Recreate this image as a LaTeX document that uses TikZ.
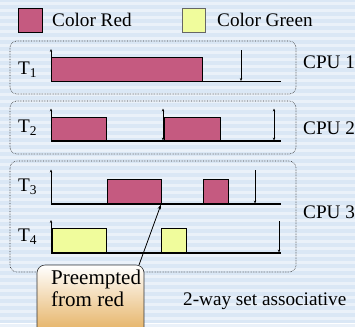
\documentclass[tikz,border=0pt]{standalone}
\usepackage{fontspec}
\setmainfont{Liberation Serif}
\usetikzlibrary{arrows.meta}
\definecolor{bgblue}{HTML}{DAE7F5}
\definecolor{bgstripe}{HTML}{EAF1F9}
\definecolor{taskred}{HTML}{C55A80}
\definecolor{taskyellow}{HTML}{F0FC9C}
\definecolor{calloutorange}{HTML}{E6B468}
\tikzset{
  cpubox/.style={draw=black!80, densely dotted, rounded corners=7pt, line width=0.6pt},
  redbar/.style={draw=black, fill=taskred, line width=0.8pt},
  yellowbar/.style={draw=black, fill=taskyellow, line width=0.6pt},
  baseline/.style={line width=1.4pt},
  tick/.style={line width=0.6pt, -{Stealth[length=3pt,width=2.4pt]}},
  dtick/.style={line width=0.6pt, {Stealth[length=3pt,width=2.4pt]}-{Stealth[length=3pt,width=2.4pt]}},
  lbl/.style={font=\fontsize{19.2}{21}\selectfont, inner sep=0pt},
}
\begin{document}
\begin{tikzpicture}[x=1pt,y=-1pt]
  % background with faint horizontal stripes
  \fill[bgblue] (0,0) rectangle (355,323);
  \foreach \k in {0,...,46} {
    \fill[bgstripe] (0,{\k*7+2}) rectangle (355,{\k*7+4.5});
  }
  \useasboundingbox (0,0) rectangle (355,323);

  % legend
  \draw[redbar] (18,8) rectangle (42,32);
  \node[lbl, anchor=west] (legred) at (52,20) {Color Red};
  \draw[yellowbar, draw=black!60] (182,8) rectangle (205,32);
  \node[lbl, anchor=west] (leggreen) at (217,20) {Color Green};

  % CPU groups
  \draw[cpubox] (10,41) rectangle (296,94);
  \draw[cpubox] (10,101) rectangle (296,154);
  \draw[cpubox] (10,161) rectangle (296,272);
  \node[lbl, anchor=west] (cpu1) at (303,62) {CPU 1};
  \node[lbl, anchor=west] (cpu2) at (303,128) {CPU 2};
  \node[lbl, anchor=west] (cpu3) at (303,212) {CPU 3};

  % task T1
  \node[lbl, anchor=west] (t1) at (18,70) {T\textsubscript{1}};
  \draw[redbar] (51,57) rectangle (202,81.5);
  \draw[baseline] (51,81.5) -- (281,81.5);
  \draw[tick] (51,81.5) -- (51,49);
  \draw[tick] (241,50) -- (241,81);

  % task T2
  \node[lbl, anchor=west] (t2) at (18,128) {T\textsubscript{2}};
  \draw[redbar] (51,117) rectangle (106,141);
  \draw[redbar] (164,117) rectangle (220,141);
  \draw[baseline] (51,141) -- (281,141);
  \draw[tick] (51,141) -- (51,108.5);
  \draw[dtick] (163,140.5) -- (163,108.5);
  \draw[dtick] (274,140.5) -- (274,108.5);

  % task T3
  \node[lbl, anchor=west] (t3) at (18,187) {T\textsubscript{3}};
  \draw[redbar] (107,179) rectangle (161,204);
  \draw[redbar] (203,179) rectangle (228,204);
  \draw[baseline] (51,204) -- (281,204);
  \draw[tick] (51,204) -- (51,169.5);
  \draw[tick] (255,170) -- (255,203.5);
  \coordinate (preempt) at (161,204.5);

  % task T4
  \node[lbl, anchor=west] (t4) at (18,237) {T\textsubscript{4}};
  \draw[yellowbar] (52,228) rectangle (106,253);
  \draw[yellowbar] (161,228) rectangle (186,253);
  \draw[baseline] (51,253) -- (281,253);
  \draw[tick] (51,253) -- (51,220);
  \draw[tick] (279,221) -- (279,252.5);

  % callout
  \shade[top color=white, bottom color=calloutorange, draw=black!80, line width=0.6pt,
         rounded corners=8pt]
    (37,330) -- (37,265) -- (144,265) -- (144,330);
  \node[font=\fontsize{21}{22}\selectfont, align=left, anchor=north west, inner sep=0pt]
    (callout) at (51,270) {Preempted\\from red};
  \coordinate (calltop) at (139,265);
  \draw[line width=0.8pt, -{Stealth[length=5pt,width=3.5pt]}] (calltop) -- (preempt);

  \node[lbl, anchor=west] (assoc) at (183,301) {2-way set associative};
\end{tikzpicture}
\end{document}
